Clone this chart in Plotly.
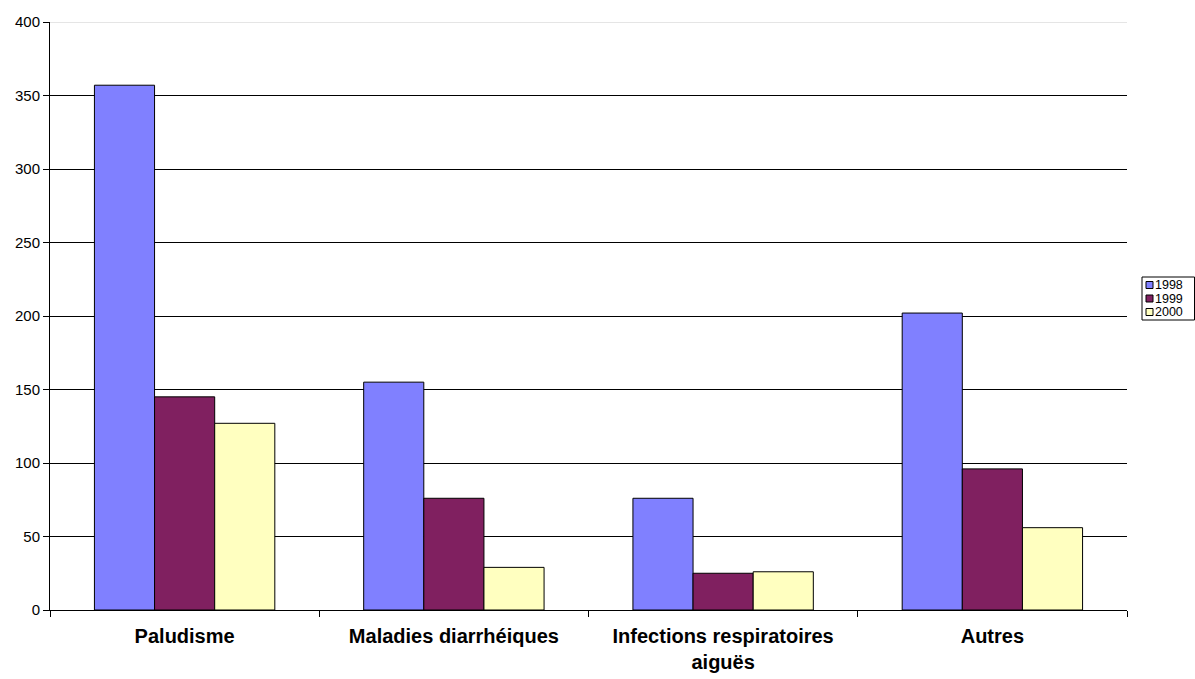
import plotly.graph_objects as go

categories = ["Paludisme", "Maladies diarrhéiques", "Infections respiratoires<br>aiguës", "Autres"]
years = ["1998", "1999", "2000"]
values_1998 = [357, 155, 76, 202]
values_1999 = [145, 76, 25, 96]
values_2000 = [127, 29, 26, 56]
colors = ["#8080FF", "#802060", "#FFFFC0"]

FONT = "Liberation Sans, Arial, sans-serif"
W, H = 1195, 679
L, R, T, B = 50, 68, 22, 69
pw, ph = W - L - R, H - T - B

def px(x):
    return (x - L) / pw

def py(y):
    return (H - B - y) / ph

fig = go.Figure()
for name, vals, col in zip(years, [values_1998, values_1999, values_2000], colors):
    fig.add_trace(go.Bar(
        x=categories, y=vals, name=name,
        marker=dict(color=col, line=dict(color="black", width=1)),
    ))

# light top border of the plot area
shapes = [dict(type="line", xref="paper", yref="y", x0=0, x1=1, y0=400, y1=400,
               line=dict(color="#dcdcdc", width=1.5), layer="above")]
# compact legend (box, swatches, labels)
shapes.append(dict(type="rect", xref="paper", yref="paper",
                   x0=px(1142), x1=px(1194.5), y0=py(320), y1=py(277),
                   line=dict(color="black", width=1), fillcolor="white", layer="above"))
annotations = []
for i, (name, col) in enumerate(zip(years, colors)):
    cy = 285 + i * 13.5
    shapes.append(dict(type="rect", xref="paper", yref="paper",
                       x0=px(1146), x1=px(1153), y0=py(cy + 3.5), y1=py(cy - 3.5),
                       line=dict(color="black", width=1), fillcolor=col, layer="above"))
    annotations.append(dict(xref="paper", yref="paper", x=px(1153), y=py(cy),
                            xanchor="left", yanchor="middle", showarrow=False,
                            text=name, font=dict(size=12.5, family=FONT, color="black")))

fig.update_layout(
    width=W, height=H,
    barmode="group", bargap=0.33, bargroupgap=0,
    plot_bgcolor="white", paper_bgcolor="white",
    margin=dict(l=L, r=R, t=T, b=B, autoexpand=False),
    font=dict(family=FONT, size=13, color="black"),
    showlegend=False,
    shapes=shapes,
    annotations=annotations,
)
fig.update_xaxes(
    showline=True, linecolor="black", linewidth=1,
    ticks="outside", ticklen=6, tickcolor="black",
    tickson="boundaries", automargin=False,
    ticklabelstandoff=8,
    tickfont=dict(size=20, family=FONT, weight="bold"),
    showgrid=False,
)
fig.update_yaxes(
    range=[0, 400], dtick=50,
    showline=True, linecolor="black", linewidth=1,
    ticks="outside", ticklen=6, tickcolor="black",
    showgrid=True, gridcolor="black", gridwidth=1,
    zeroline=False, automargin=False,
    ticklabelstandoff=0,
    tickfont=dict(size=15, family=FONT),
)
fig.write_html("out.html", config={"displayModeBar": False},
               post_script="document.body.style.margin='0';document.body.style.padding='0';")
